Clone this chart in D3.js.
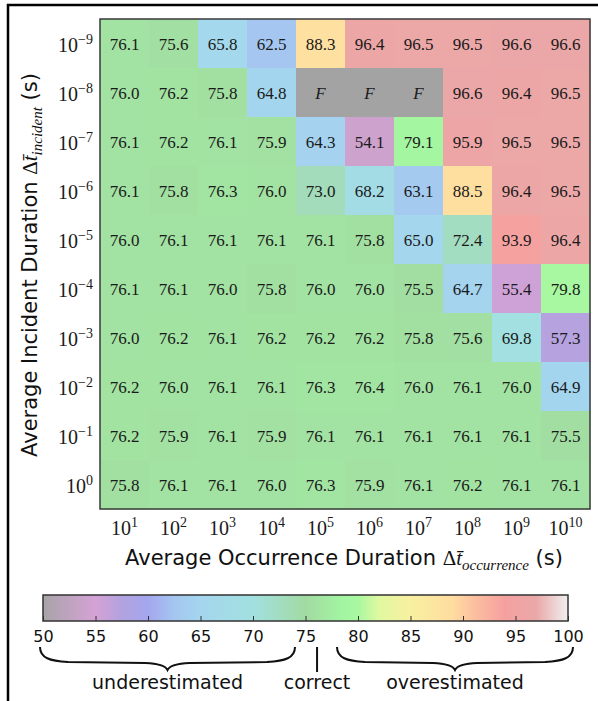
<!DOCTYPE html>
<html>
<head>
<meta charset="utf-8">
<script src="https://cdn.jsdelivr.net/npm/d3@7"></script>
<style>
  body { margin: 0; background: #fff; }
  svg { display: block; }
</style>
</head>
<body>
<div id="chart"></div>
<script>
// heatmap of estimated values, occurrence vs incident duration

// data (rows from 10^-9 at top down to 10^0, columns 10^1 .. 10^10)
var colExps = [1, 2, 3, 4, 5, 6, 7, 8, 9, 10];
var rowExps = [-9, -8, -7, -6, -5, -4, -3, -2, -1, 0];
var rowVals = [
  [76.1, 75.6, 65.8, 62.5, 88.3, 96.4, 96.5, 96.5, 96.6, 96.6],
  [76.0, 76.2, 75.8, 64.8, "F", "F", "F", 96.6, 96.4, 96.5],
  [76.1, 76.2, 76.1, 75.9, 64.3, 54.1, 79.1, 95.9, 96.5, 96.5],
  [76.1, 75.8, 76.3, 76.0, 73.0, 68.2, 63.1, 88.5, 96.4, 96.5],
  [76.0, 76.1, 76.1, 76.1, 76.1, 75.8, 65.0, 72.4, 93.9, 96.4],
  [76.1, 76.1, 76.0, 75.8, 76.0, 76.0, 75.5, 64.7, 55.4, 79.8],
  [76.0, 76.2, 76.1, 76.2, 76.2, 76.2, 75.8, 75.6, 69.8, 57.3],
  [76.2, 76.0, 76.1, 76.1, 76.3, 76.4, 76.0, 76.1, 76.0, 64.9],
  [76.2, 75.9, 76.1, 75.9, 76.1, 76.1, 76.1, 76.1, 76.1, 75.5],
  [75.8, 76.1, 76.1, 76.0, 76.3, 75.9, 76.1, 76.2, 76.1, 76.1]
];
var cbarTicks = [50, 55, 60, 65, 70, 75, 80, 85, 90, 95, 100];
var correctValue = 76.1;

// colour map stops
var cmapDomain = [50, 55, 57.5, 60, 62.5, 65, 70, 75, 78.5, 80, 82, 85, 89, 91, 94, 97, 100];
var cmapRange = ["#a8a4a8", "#d5a2d5", "#b2a2e0", "#a4a6ee", "#a4c6f0", "#a4d6ee", "#a2e0e0", "#a2daa2",
                 "#a2f5a2", "#a8f8a0", "#e0f8a0", "#f8f0a0", "#ffdca0", "#fcc0a0",
                 "#f5a0a0", "#eaa8a8", "#f0f0f0"];

var svgWidth = 598;
var svgHeight = 701;

var svg = d3.select("#chart")
  .append("svg")
  .attr("width", svgWidth)
  .attr("height", svgHeight);

var color = d3.scaleLinear().domain(cmapDomain).range(cmapRange).clamp(true);

var serif = "'Liberation Serif', 'DejaVu Serif', serif";
var sans = "'DejaVu Sans', sans-serif";

// frame lines (top and left)
svg.append("path")
  .attr("d", "M8,701 L8,5 L598,5")
  .attr("fill", "none")
  .attr("stroke", "#000")
  .attr("stroke-width", 2.5);

// heatmap scales
var x = d3.scaleBand().domain(colExps).range([100, 590]);
var y = d3.scaleBand().domain(rowExps).range([19, 509]);

var cells = [];
rowVals.forEach(function(row, i) {
  row.forEach(function(v, j) {
    cells.push({ r: rowExps[i], c: colExps[j], v: v });
  });
});

var g = svg.append("g");

g.selectAll("rect.cell")
  .data(cells)
  .enter()
  .append("rect")
  .attr("class", "cell")
  .attr("x", d => x(d.c))
  .attr("y", d => y(d.r))
  .attr("width", x.bandwidth() + 0.5)
  .attr("height", y.bandwidth() + 0.5)
  .attr("fill", d => d.v === "F" ? "#a3a3a3" : color(d.v));

g.selectAll("text.val")
  .data(cells)
  .enter()
  .append("text")
  .attr("class", "val")
  .attr("x", d => x(d.c) + x.bandwidth() / 2)
  .attr("y", d => y(d.r) + y.bandwidth() / 2)
  .attr("dy", "0.36em")
  .attr("text-anchor", "middle")
  .style("font-family", serif)
  .style("font-size", "17px")
  .style("font-style", d => d.v === "F" ? "italic" : "normal")
  .style("fill", "#1a1a1a")
  .text(d => d.v === "F" ? "F" : d.v.toFixed(1));

// heatmap border
g.append("rect")
  .attr("x", 100)
  .attr("y", 19)
  .attr("width", 490)
  .attr("height", 490)
  .attr("fill", "none")
  .attr("stroke", "#3a3a3a")
  .attr("stroke-width", 1.5);

// tick labels 10^n
function powLabel(sel) {
  sel.append("tspan").text("10");
  sel.append("tspan")
    .attr("dy", "-8")
    .style("font-size", "14px")
    .text(d => String(d).replace("-", "\u2212"));
}

g.selectAll("text.ytick")
  .data(rowExps)
  .enter()
  .append("text")
  .attr("class", "ytick")
  .attr("x", 93)
  .attr("y", d => y(d) + y.bandwidth() / 2 + 8)
  .attr("text-anchor", "end")
  .style("font-family", serif)
  .style("font-size", "20px")
  .style("fill", "#1a1a1a")
  .call(powLabel);

g.selectAll("text.xtick")
  .data(colExps)
  .enter()
  .append("text")
  .attr("class", "xtick")
  .attr("x", d => x(d) + x.bandwidth() / 2)
  .attr("y", 535)
  .attr("text-anchor", "middle")
  .style("font-family", serif)
  .style("font-size", "20px")
  .style("fill", "#1a1a1a")
  .call(powLabel);

// axis titles
function mathTitle(t, plain, sub) {
  t.append("tspan").style("font-family", sans).text(plain);
  t.append("tspan").style("font-family", serif).text("\u0394");
  t.append("tspan").style("font-family", serif).style("font-style", "italic").text("t\u0304");
  t.append("tspan")
    .attr("dy", "5")
    .style("font-family", serif)
    .style("font-style", "italic")
    .style("font-size", "15px")
    .text(sub);
  t.append("tspan")
    .attr("dy", "-5")
    .style("font-family", sans)
    .text(" (s)");
}

var xTitle = svg.append("text")
  .attr("x", 344)
  .attr("y", 565)
  .attr("text-anchor", "middle")
  .style("font-size", "21px")
  .style("fill", "#111");
mathTitle(xTitle, "Average Occurrence Duration ", "occurrence");

var yTitle = svg.append("text")
  .attr("transform", "translate(37, 265) rotate(-90)")
  .attr("text-anchor", "middle")
  .style("font-size", "21px")
  .style("fill", "#111");
mathTitle(yTitle, "Average Incident Duration ", "incident");

// colour bar
var cx = d3.scaleLinear().domain([50, 100]).range([43, 568]);
var cbTop = 595, cbBottom = 621;

var grad = svg.append("defs")
  .append("linearGradient")
  .attr("id", "cbar")
  .attr("x1", "0%").attr("x2", "100%")
  .attr("y1", "0%").attr("y2", "0%");

grad.selectAll("stop")
  .data(cmapDomain)
  .enter()
  .append("stop")
  .attr("offset", d => ((d - 50) / 50 * 100) + "%")
  .attr("stop-color", d => color(d));

svg.append("rect")
  .attr("x", cx(50))
  .attr("y", cbTop)
  .attr("width", cx(100) - cx(50))
  .attr("height", cbBottom - cbTop)
  .attr("fill", "url(#cbar)")
  .attr("stroke", "#333")
  .attr("stroke-width", 1.5);

var cAxis = svg.append("g")
  .attr("transform", `translate(0, ${cbBottom})`)
  .call(d3.axisBottom(cx).tickValues(cbarTicks).tickSize(-5).tickPadding(10));

cAxis.select(".domain").remove();
cAxis.selectAll(".tick line").attr("stroke", "#333");
cAxis.selectAll(".tick text")
  .style("font-family", sans)
  .style("font-size", "16px")
  .style("fill", "#111");

// braces under the colour bar
function brace(x1, x2, yTop) {
  var xm = (x1 + x2) / 2;
  return "M" + x1 + "," + yTop +
    " C" + x1 + "," + (yTop + 11) + " " + (x1 + 10) + "," + (yTop + 14) + " " + (x1 + 28) + "," + (yTop + 15) +
    " L" + (xm - 22) + "," + (yTop + 16) +
    " C" + (xm - 8) + "," + (yTop + 16.5) + " " + (xm - 2) + "," + (yTop + 19) + " " + xm + "," + (yTop + 23) +
    " C" + (xm + 2) + "," + (yTop + 19) + " " + (xm + 8) + "," + (yTop + 16.5) + " " + (xm + 22) + "," + (yTop + 16) +
    " L" + (x2 - 28) + "," + (yTop + 15) +
    " C" + (x2 - 10) + "," + (yTop + 14) + " " + x2 + "," + (yTop + 11) + " " + x2 + "," + yTop;
}

svg.append("path")
  .attr("d", brace(40, 295, 647))
  .attr("fill", "none")
  .attr("stroke", "#111")
  .attr("stroke-width", 2);

svg.append("path")
  .attr("d", brace(337, 573, 647))
  .attr("fill", "none")
  .attr("stroke", "#111")
  .attr("stroke-width", 2);

svg.append("line")
  .attr("x1", cx(correctValue)).attr("x2", cx(correctValue))
  .attr("y1", 647).attr("y2", 672)
  .attr("stroke", "#111")
  .attr("stroke-width", 2);

var notes = [
  { label: "underestimated", pos: 167.5 },
  { label: "correct", pos: cx(correctValue) },
  { label: "overestimated", pos: 455 }
];

svg.selectAll("text.note")
  .data(notes)
  .enter()
  .append("text")
  .attr("class", "note")
  .attr("x", d => d.pos)
  .attr("y", 689)
  .attr("text-anchor", "middle")
  .style("font-family", sans)
  .style("font-size", "19px")
  .style("fill", "#111")
  .text(d => d.label);
</script>
</body>
</html>
